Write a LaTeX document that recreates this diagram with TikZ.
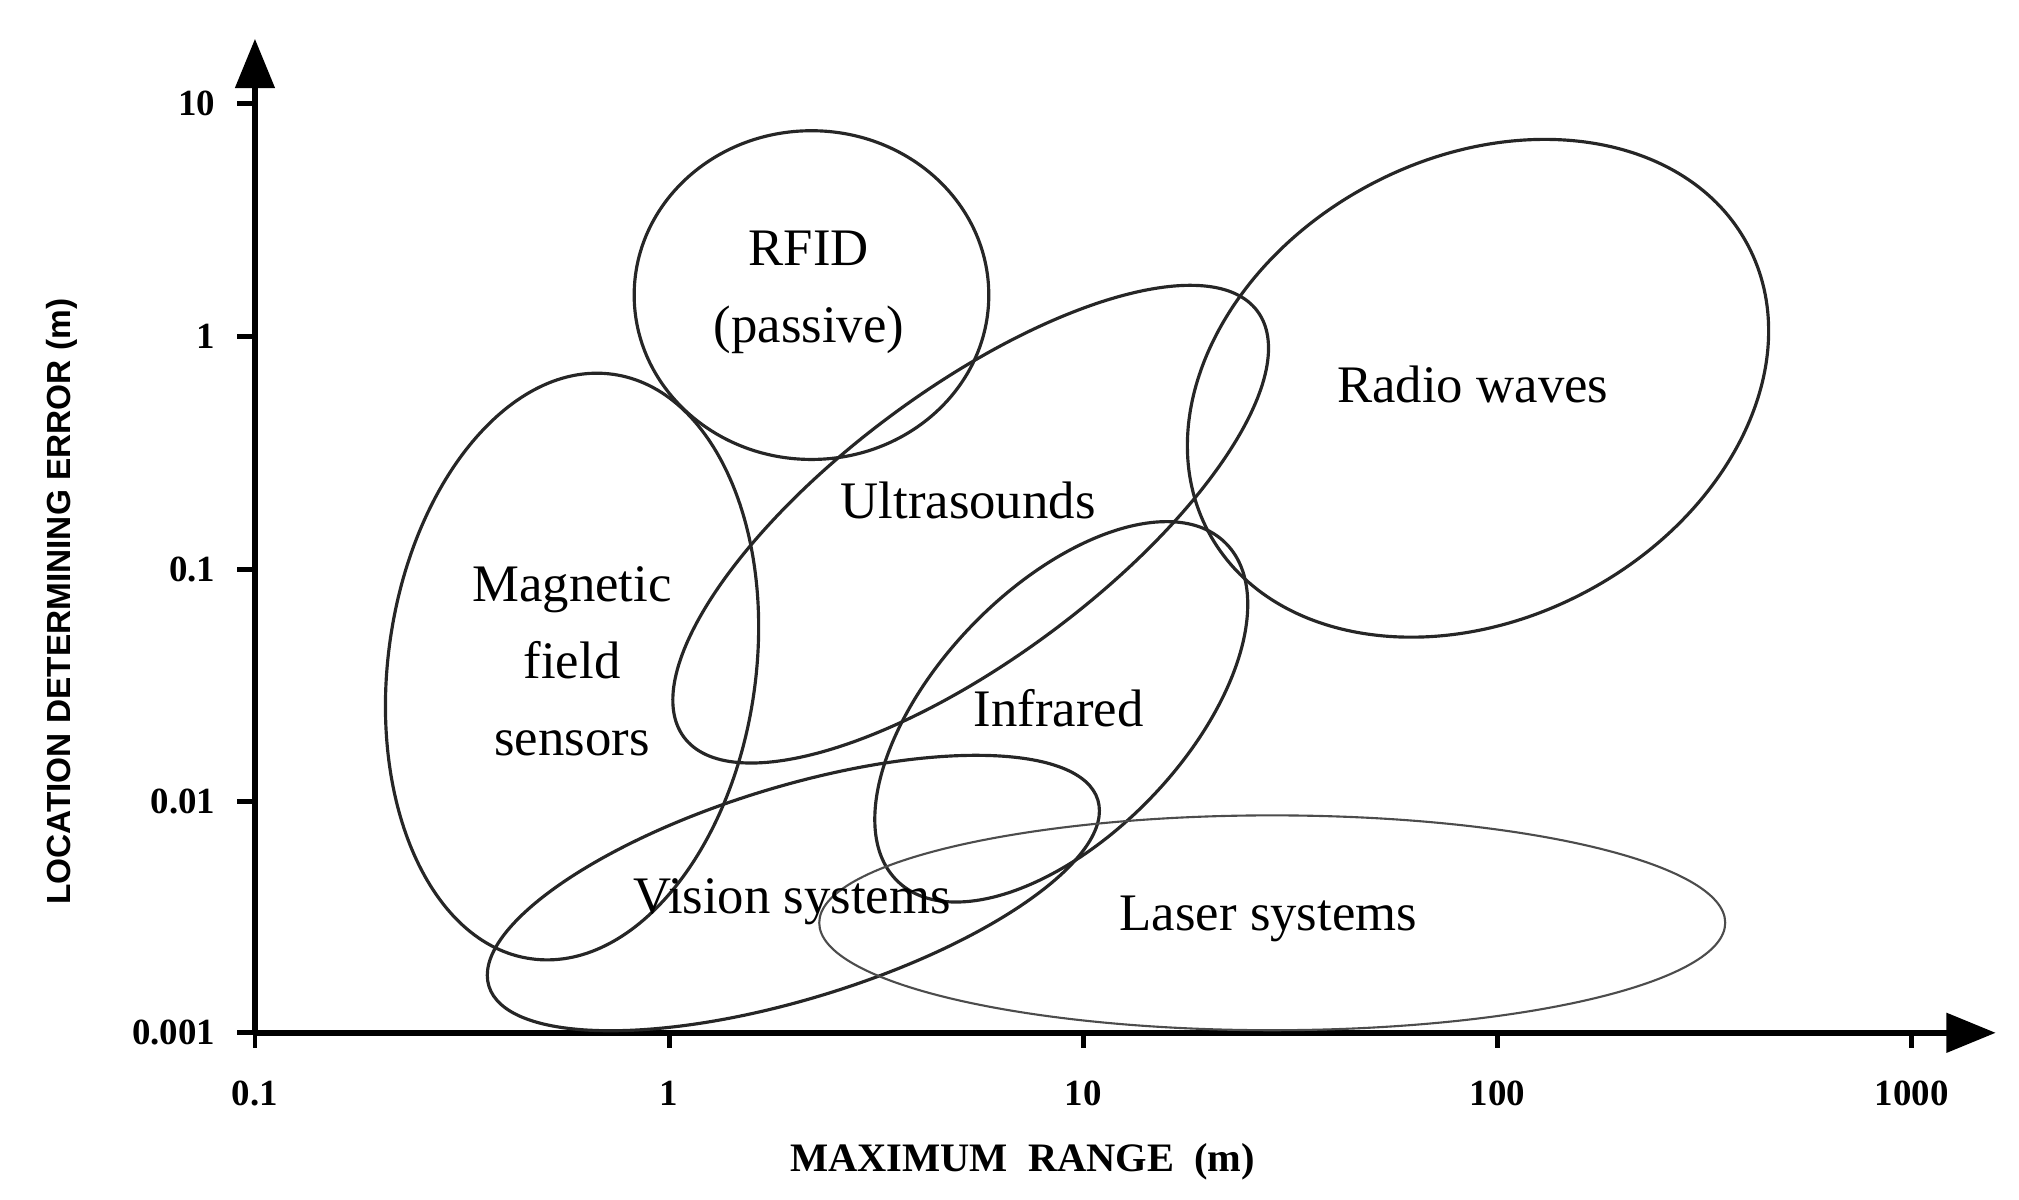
\documentclass[tikz,border=0pt]{standalone}
\usepackage{fontspec}
\setmainfont{Liberation Serif}
\newfontfamily\axsans{Liberation Sans}
\usetikzlibrary{arrows.meta}
\tikzset{
  blob/.style={line width=0.9pt, black!85},
  lbl/.style={font=\fontsize{15}{18}\selectfont, align=center},
  tick/.style={font=\bfseries\fontsize{10.5}{12}\selectfont}
}
\begin{document}
\begin{tikzpicture}[x=0.01294cm, y=-0.01294cm]
	\useasboundingbox (0,0) rectangle (1560,927);

	% axes
	\coordinate (o) at (197,798);
	\coordinate (ytop) at (197,30);
	\coordinate (xend) at (1542,798);
	\draw[line width=1.6pt, -{Triangle[length=14pt,width=11pt]}] (o) -- (ytop);
	\draw[line width=1.6pt, -{Triangle[length=14pt,width=11pt]}] (o) -- (xend);

	% ticks
	\foreach \x/\t in {197/0.1, 517/1, 837/10, 1157/100, 1477/1000} {
		\draw[line width=1.4pt] (\x,798) -- (\x,810);
		\node[tick] (xt\t) at (\x,845) {\t};
	}
	\foreach \y/\t in {798/0.001, 619/0.01, 440/0.1, 260/1, 80/10} {
		\draw[line width=1.4pt] (197,\y) -- (183,\y);
		\node[tick, anchor=east] (yt\t) at (176,\y) {\t};
	}

	\node[font=\bfseries\fontsize{11.5}{13}\selectfont] (xlab) at (790,898) {MAXIMUM\ \ RANGE\ \ (m)};
	\node[font=\axsans\bfseries\fontsize{9.5}{11}\selectfont, rotate=90] (ylab) at (48,465) {LOCATION DETERMINING ERROR (m)};

	% regions
	\draw[blob] (627,228) ellipse [x radius=137, y radius=127];
	\draw[blob, rotate around={36.6:(750,405)}] (750,405) ellipse [x radius=276, y radius=104];
	\draw[blob, rotate around={28:(1142,300)}] (1142,300) ellipse [x radius=236, y radius=178];
	\draw[blob, rotate around={-8:(442,515)}] (442,515) ellipse [x radius=142, y radius=228];
	\draw[blob, rotate around={46:(820,550)}] (820,550) ellipse [x radius=182, y radius=96];
	\draw[blob, rotate around={17:(613,690)}] (613,690) ellipse [x radius=246, y radius=82];
	\draw[line width=0.6pt, black!70] (983,713) ellipse [x radius=350, y radius=83];

	% labels
	\node[lbl] (rfid) at (625,226) {RFID\\[4pt](passive)};
	\node[lbl] (ultra) at (748,387) {Ultrasounds};
	\node[lbl] (radio) at (1138,297) {Radio waves};
	\node[lbl] (magn) at (442,511) {Magnetic\\[4pt]field\\[4pt]sensors};
	\node[lbl] (infra) at (818,547) {Infrared};
	\node[lbl] (vision) at (612,697) {Vision systems};
	\node[lbl] (laser) at (980,710) {Laser systems};
\end{tikzpicture}
\end{document}
